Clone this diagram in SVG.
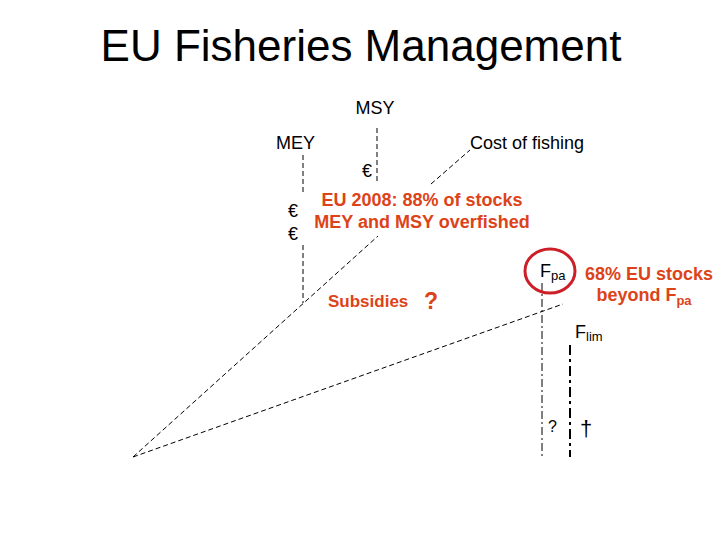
<svg xmlns="http://www.w3.org/2000/svg" width="720" height="540" viewBox="0 0 720 540">
<style>
text{font-family:"Liberation Sans",Arial,sans-serif;fill:#000}
.lbl{font-size:18px}
.red{fill:#dd4318;font-weight:bold;font-size:18px}
.dash{stroke:#000;stroke-width:1;fill:none;stroke-dasharray:5 3}
.dd{stroke:#000;stroke-width:1;fill:none;stroke-dasharray:8 3 2 3}
.ddt{stroke:#000;stroke-width:2;fill:none;stroke-dasharray:10 4 3 4}
</style>
<rect width="720" height="540" fill="#fff"/>
<text x="361" y="61" font-size="44" text-anchor="middle">EU Fisheries Management</text>
<g id="connectors">
<line class="dash" x1="377" y1="128" x2="377" y2="182"/>
<line class="dash" x1="303" y1="155" x2="303" y2="192"/>
<line class="dash" x1="303" y1="245" x2="303" y2="303"/>
<line class="dash" x1="133" y1="457" x2="378" y2="236"/>
<line class="dash" x1="431" y1="184" x2="470" y2="150"/>
<line class="dash" x1="133" y1="457" x2="563" y2="304"/>
<line class="dd" x1="542" y1="283" x2="542" y2="457"/>
<line class="ddt" x1="570" y1="345" x2="570" y2="457"/>
</g>
<g id="msy"><text class="lbl" x="375" y="114" text-anchor="middle">MSY</text></g>
<g id="mey"><text class="lbl" x="276" y="149">MEY</text></g>
<g id="cost"><text class="lbl" x="470" y="149">Cost of fishing</text></g>
<g id="euro1"><text class="lbl" x="362" y="177">€</text></g>
<g id="euro2"><text class="lbl" x="288" y="217">€</text></g>
<g id="euro3"><text class="lbl" x="288" y="240">€</text></g>
<g id="eu2008">
<text class="red" x="422" y="206" text-anchor="middle">EU 2008: 88% of stocks</text>
<text class="red" x="422" y="228" text-anchor="middle">MEY and MSY overfished</text>
</g>
<g id="subsidies">
<text class="red" x="328" y="307" style="font-size:17px">Subsidies</text>
<text class="red" x="424" y="309" style="font-size:23px">?</text>
</g>
<g id="fpa">
<ellipse cx="550" cy="271" rx="25" ry="22" fill="none" stroke="#cc1f28" stroke-width="3"/>
<text class="lbl" x="540" y="277">F<tspan font-size="13" dy="3">pa</tspan></text>
</g>
<g id="beyond">
<text class="red" x="649" y="280" text-anchor="middle">68% EU stocks</text>
<text class="red" x="644" y="301" text-anchor="middle">beyond F<tspan font-size="13" dy="4">pa</tspan></text>
</g>
<g id="flim"><text class="lbl" x="575" y="338">F<tspan font-size="13" dy="3">lim</tspan></text></g>
<g id="q"><text x="548" y="432" font-size="16">?</text></g>
<g id="dagger"><text x="580" y="436" font-size="22">†</text></g>
</svg>
